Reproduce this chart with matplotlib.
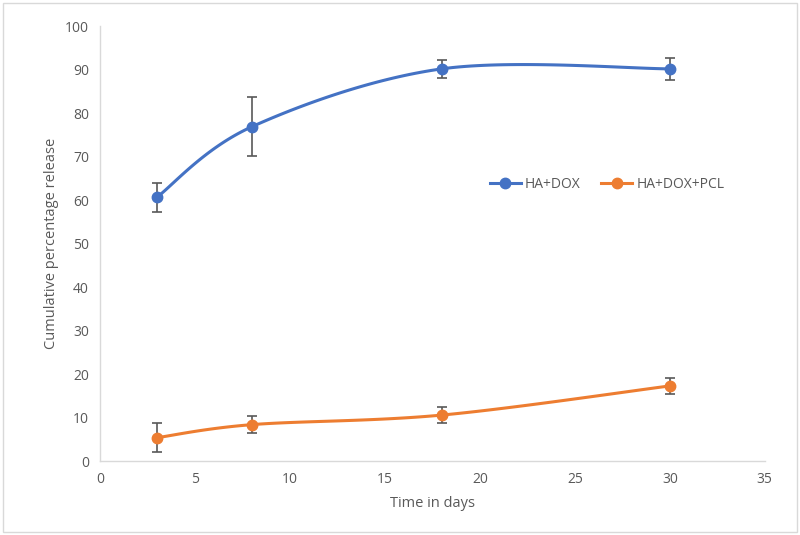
import numpy as np
import matplotlib.pyplot as plt
from matplotlib.patches import Rectangle

days = [3, 8, 18, 30]
ha_dox = [60.7, 76.9, 90.2, 90.2]
ha_dox_err = [3.3, 6.8, 2.1, 2.6]
ha_dox_pcl = [5.4, 8.4, 10.6, 17.3]
ha_dox_pcl_err = [3.3, 1.9, 1.9, 1.9]

BLUE = "#4472C4"
ORANGE = "#ED7D31"
GREY = "#595959"


def excel_smooth(x, y, n=40):
    """Bezier smoothing like Excel's 'smoothed line' (control pts at 1/6)."""
    p = np.column_stack([x, y]).astype(float)
    ext = np.vstack([p[0], p, p[-1]])
    out = []
    t = np.linspace(0, 1, n)[:, None]
    for i in range(len(p) - 1):
        p0, p3 = p[i], p[i + 1]
        c1 = p0 + (ext[i + 2] - ext[i]) / 6
        c2 = p3 - (ext[i + 3] - ext[i + 1]) / 6
        seg = ((1 - t) ** 3) * p0 + 3 * ((1 - t) ** 2) * t * c1 \
            + 3 * (1 - t) * t ** 2 * c2 + t ** 3 * p3
        out.append(seg)
    s = np.vstack(out)
    return s[:, 0], s[:, 1]


plt.rcParams["font.family"] = ["Open Sans", "DejaVu Sans"]
fig = plt.figure(figsize=(8, 5.35), dpi=100)
ax = fig.add_axes([0.125, 0.138, 0.831, 0.813])

for y, err, col, lbl in [(ha_dox, ha_dox_err, BLUE, "HA+DOX"),
                         (ha_dox_pcl, ha_dox_pcl_err, ORANGE, "HA+DOX+PCL")]:
    sx, sy = excel_smooth(days, y)
    ax.plot(sx, sy, color=col, lw=2.2, zorder=2)
    ax.errorbar(days, y, yerr=err, fmt="none", ecolor=GREY, elinewidth=1.2,
                capsize=3.5, capthick=1.2, zorder=3)
    ax.plot(days, y, "o", color=col, ms=7.5, zorder=4)
    ax.plot([], [], "-o", color=col, lw=2.2, ms=7.5, label=lbl)

ax.set_xlim(0, 35)
ax.set_ylim(0, 100)
ax.set_xticks(range(0, 36, 5))
ax.set_yticks(range(0, 101, 10))
ax.tick_params(length=0, labelsize=10, labelcolor=GREY, pad=8)
for sp in ("top", "right"):
    ax.spines[sp].set_visible(False)
for sp in ("left", "bottom"):
    ax.spines[sp].set_color("#D9D9D9")
    ax.spines[sp].set_linewidth(1.0)
ax.set_xlabel("Time in days", fontsize=10.5, color=GREY, labelpad=6)
ax.set_ylabel("Cumulative percentage release", fontsize=10.5, color=GREY, labelpad=4)

ax.legend(loc="center left", bbox_to_anchor=(0.568, 0.637), ncol=2, frameon=False,
          fontsize=10, labelcolor=GREY, handlelength=2.2, handletextpad=0.3,
          columnspacing=1.5)

fig.add_artist(Rectangle((0.004, 0.006), 0.992, 0.988, transform=fig.transFigure,
                         fill=False, edgecolor="#D9D9D9", lw=1.0))
fig.savefig("out.png", dpi=100)
